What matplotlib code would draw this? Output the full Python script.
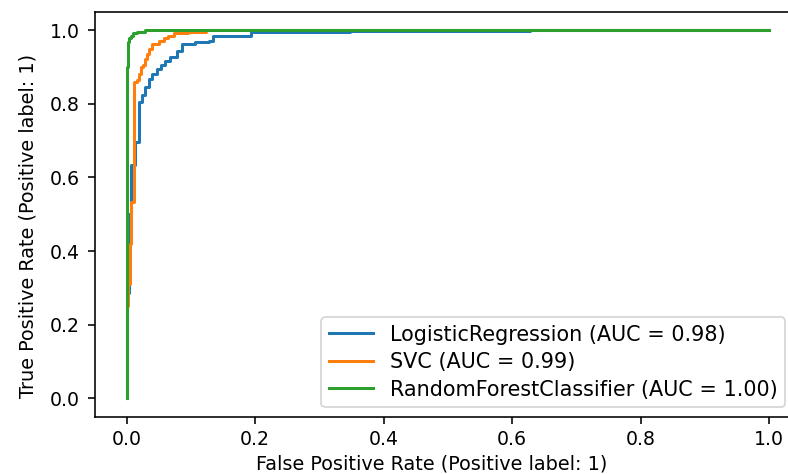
import matplotlib
matplotlib.use("Agg")
import matplotlib.pyplot as plt

# ROC curve corner points for each classifier
lr_fpr = [0, 0, 0.004, 0.004, 0.007, 0.007, 0.013, 0.013, 0.019, 0.019, 0.024, 0.024,
          0.029, 0.029, 0.034, 0.034, 0.040, 0.040, 0.047, 0.047, 0.053, 0.053, 0.060,
          0.060, 0.067, 0.067, 0.078, 0.078, 0.086, 0.086, 0.107, 0.107, 0.128, 0.128,
          0.134, 0.134, 0.193, 0.193, 0.348, 0.348, 0.628, 0.628, 1.0]
lr_tpr = [0, 0.285, 0.285, 0.50, 0.50, 0.633, 0.633, 0.697, 0.697, 0.804, 0.804, 0.825,
          0.825, 0.845, 0.845, 0.867, 0.867, 0.880, 0.880, 0.894, 0.894, 0.905, 0.905,
          0.917, 0.917, 0.928, 0.928, 0.944, 0.944, 0.962, 0.962, 0.967, 0.967, 0.971,
          0.971, 0.985, 0.985, 0.994, 0.994, 0.997, 0.997, 1.0, 1.0]

svc_fpr = [0, 0, 0.002, 0.002, 0.005, 0.005, 0.007, 0.007, 0.011, 0.011, 0.016, 0.016,
           0.019, 0.019, 0.023, 0.023, 0.026, 0.026, 0.029, 0.029, 0.031, 0.031, 0.034,
           0.034, 0.039, 0.039, 0.050, 0.050, 0.058, 0.058, 0.065, 0.065, 0.073, 0.073,
           0.096, 0.096, 0.123, 0.123, 1.0]
svc_tpr = [0, 0.25, 0.25, 0.31, 0.31, 0.42, 0.42, 0.533, 0.533, 0.858, 0.858, 0.865,
           0.865, 0.880, 0.880, 0.899, 0.899, 0.905, 0.905, 0.921, 0.921, 0.935, 0.935,
           0.948, 0.948, 0.962, 0.962, 0.971, 0.971, 0.978, 0.978, 0.985, 0.985, 0.991,
           0.991, 0.994, 0.994, 1.0, 1.0]

rf_fpr = [0, 0, 0.002, 0.002, 0.004, 0.004, 0.006, 0.006, 0.010, 0.010, 0.016, 0.016,
          0.029, 0.029, 1.0]
rf_tpr = [0, 0.90, 0.90, 0.967, 0.967, 0.978, 0.978, 0.985, 0.985, 0.991, 0.991, 0.996,
          0.996, 1.0, 1.0]

labels = ["LogisticRegression (AUC = 0.98)",
          "SVC (AUC = 0.99)",
          "RandomForestClassifier (AUC = 1.00)"]

dpi = 128
W, H = 788, 474
fig = plt.figure(figsize=(W / dpi, H / dpi), dpi=dpi)
# axes fill the canvas to its right edge; the x range is cut there too
ax = fig.add_axes([95 / W, (H - 416.7) / H, (W - 95) / W, 405 / H])

ax.plot(lr_fpr, lr_tpr, label=labels[0], lw=1.7)
ax.plot(svc_fpr, svc_tpr, label=labels[1], lw=1.7)
ax.plot(rf_fpr, rf_tpr, label=labels[2], lw=1.7)

ax.set_xlim(-0.0493, 1.0291)
ax.set_ylim(-0.05, 1.05)
ax.set_xticks([0.0, 0.2, 0.4, 0.6, 0.8, 1.0])

ax.spines["right"].set_visible(False)
for s in ax.spines.values():
    s.set_linewidth(0.9)

ax.tick_params(labelsize=10.6, length=3.9, width=0.9)
ax.tick_params(axis="y", pad=4.5)
ax.set_xlabel("False Positive Rate (Positive label: 1)", fontsize=10.8)
ax.set_ylabel("True Positive Rate (Positive label: 1)", fontsize=10.8)
ax.xaxis.set_label_coords(0.4863, -0.094)
ax.yaxis.set_label_coords(-0.0835, 0.471)
ax.legend(loc="lower right", bbox_to_anchor=(0.9957, 0.024), borderaxespad=0,
          fontsize=11.7, labelspacing=0.36, handlelength=2.15,
          handletextpad=0.8, borderpad=0.35)

fig.savefig("out.png", dpi=dpi)
